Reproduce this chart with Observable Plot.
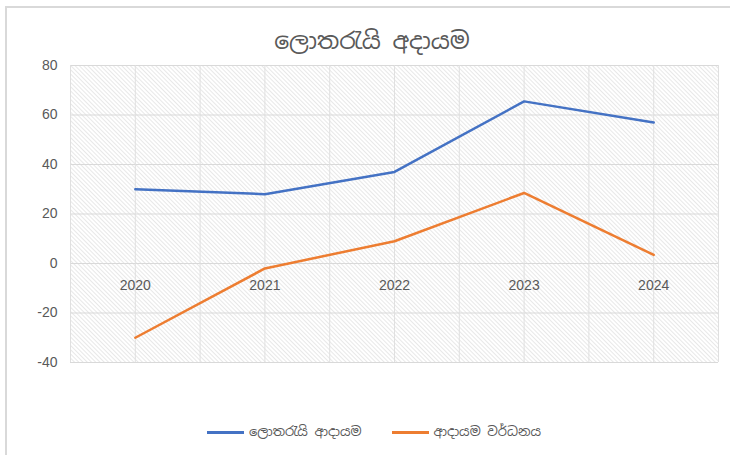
<!DOCTYPE html>
<html>
<head>
<meta charset="utf-8">
<script src="https://cdn.jsdelivr.net/npm/d3@7"></script>
<script src="https://cdn.jsdelivr.net/npm/@observablehq/plot@0.6"></script>
<style>
  html, body { margin: 0; padding: 0; background: #fff; }
  body { width: 730px; height: 455px; overflow: hidden; position: relative;
         font-family: "Noto Sans Sinhala", "Iskoola Pota", "Liberation Sans", "DejaVu Sans", sans-serif; }
  #frame { position: absolute; left: 5px; top: 6px; width: 740px; height: 460px;
           border-left: 2px solid #d9d9d9; border-top: 2px solid #d9d9d9; box-sizing: border-box; }
  #title { position: absolute; left: 0; top: 23px; width: 744px; text-align: center;
           font-size: 23.5px; color: #595959; line-height: 36px; }
  #chart { position: absolute; left: 0; top: 55px; }
  #legend { position: absolute; left: 0; top: 420px; width: 748px; display: flex; justify-content: center;
            gap: 30px; font-size: 13px; color: #595959; line-height: 24px; }
  .item { display: flex; align-items: center; gap: 5px; }
  .swatch { width: 37px; height: 3px; display: inline-block; }
</style>
</head>
<body>
<div id="frame"></div>
<div id="title"></div>
<div id="chart"></div>
<div id="legend"></div>
<script>
const titleText = "ලොතරැයි අදායම";
const years = [2020, 2021, 2022, 2023, 2024];
const seriesNames = ["ලොතරැයි ආදායම", "ආදායම වර්ධනය"];
const revenue = [30, 28, 37, 65.5, 57];
const growth = [-30, -2, 9, 28.5, 3.5];
const yTicks = [-40, -20, 0, 20, 40, 60, 80];
const colors = ["#4472C4", "#ED7D31"];

document.getElementById("title").textContent = titleText;

const rows = [];
years.forEach((yr, i) => {
  rows.push({year: yr, value: revenue[i], series: seriesNames[0]});
  rows.push({year: yr, value: growth[i], series: seriesNames[1]});
});

const gridXValues = d3.range(years[0] - 0.5, years[years.length - 1] + 0.51, 0.5);

const plot = Plot.plot({
  width: 730,
  height: 340,
  marginLeft: 70,
  marginRight: 12,
  marginTop: 10,
  marginBottom: 33,
  style: {fontFamily: "'Liberation Sans', 'DejaVu Sans', sans-serif", background: "transparent"},
  x: {type: "linear", domain: [years[0] - 0.5, years[years.length - 1] + 0.5]},
  y: {domain: [yTicks[0], yTicks[yTicks.length - 1]]},
  marks: [
    Plot.frame({fill: "url(#hatch)", stroke: "none"}),
    Plot.gridY(yTicks, {stroke: "#d9d9d9", strokeOpacity: 1, strokeWidth: 1}),
    Plot.gridX(gridXValues, {stroke: "#e0e0e0", strokeOpacity: 1, strokeWidth: 1}),
    Plot.axisY(yTicks, {tickSize: 0, tickPadding: 13, fontSize: 14, color: "#595959", label: null,
      tickFormat: d => String(d)}),
    Plot.axisX({ticks: [], label: null, tickSize: 0}),
    Plot.text(years, {x: d => d, y: () => 0, dy: 22, text: d => String(d), fontSize: 14, fill: "#595959"}),
    Plot.line(rows, {x: "year", y: "value", z: "series",
      stroke: d => d.series === seriesNames[0] ? colors[0] : colors[1],
      strokeWidth: 2.5, strokeLinejoin: "round"})
  ]
});

const ns = "http://www.w3.org/2000/svg";
const defs = document.createElementNS(ns, "defs");
const pat = document.createElementNS(ns, "pattern");
pat.setAttribute("id", "hatch");
pat.setAttribute("patternUnits", "userSpaceOnUse");
pat.setAttribute("width", "3");
pat.setAttribute("height", "3");
pat.setAttribute("patternTransform", "rotate(-45)");
const bg = document.createElementNS(ns, "rect");
bg.setAttribute("width", "3"); bg.setAttribute("height", "3"); bg.setAttribute("fill", "#ffffff");
const ln = document.createElementNS(ns, "rect");
ln.setAttribute("x", "0"); ln.setAttribute("y", "0");
ln.setAttribute("width", "1"); ln.setAttribute("height", "3"); ln.setAttribute("fill", "#e8e8e8");
pat.appendChild(bg); pat.appendChild(ln);
defs.appendChild(pat);
plot.insertBefore(defs, plot.firstChild);
document.getElementById("chart").appendChild(plot);

const legend = document.getElementById("legend");
seriesNames.forEach((name, i) => {
  const it = document.createElement("div");
  it.className = "item";
  const sw = document.createElement("span");
  sw.className = "swatch";
  sw.style.background = colors[i];
  const tx = document.createElement("span");
  tx.textContent = name;
  it.appendChild(sw); it.appendChild(tx);
  legend.appendChild(it);
});
</script>
</body>
</html>
